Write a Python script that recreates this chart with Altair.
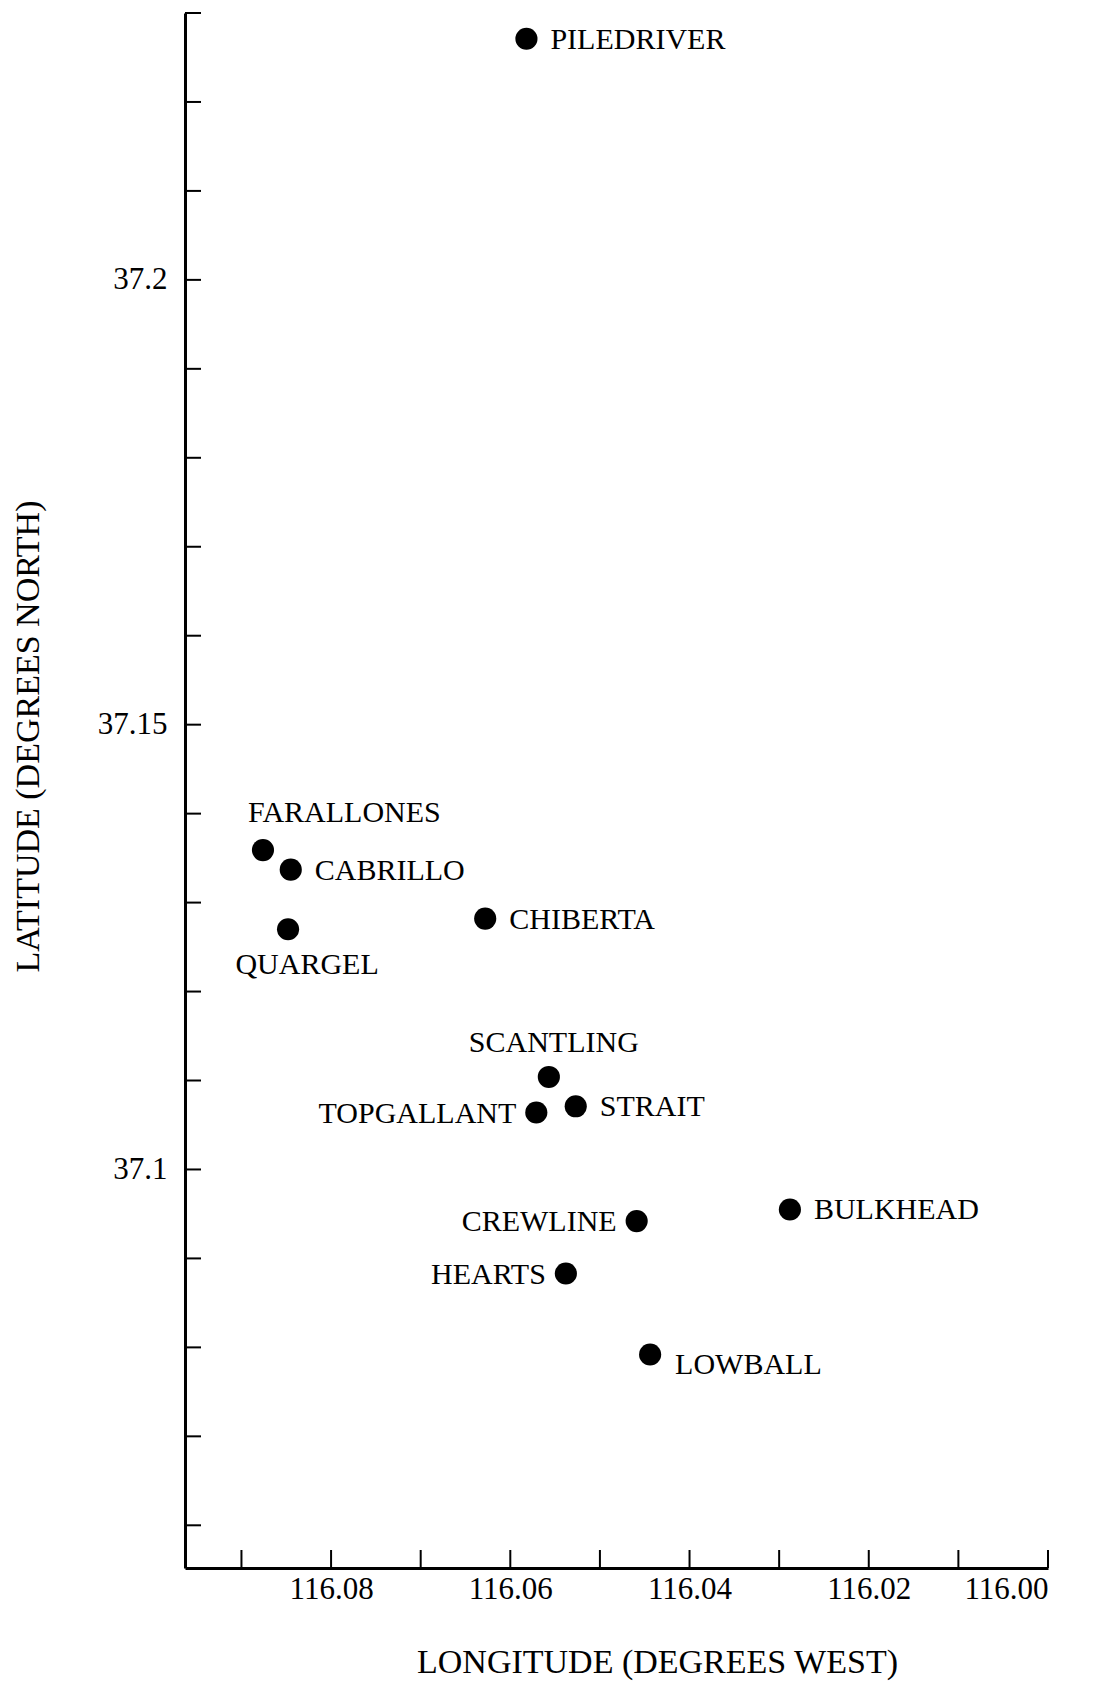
import altair as alt
import pandas as pd

# Station data
names = ["PILEDRIVER", "FARALLONES", "CABRILLO", "QUARGEL", "CHIBERTA",
         "SCANTLING", "TOPGALLANT", "STRAIT", "CREWLINE", "BULKHEAD",
         "HEARTS", "LOWBALL"]
lon_west = [116.0582, 116.0876, 116.0845, 116.0848, 116.0628,
            116.0557, 116.0571, 116.0527, 116.0459, 116.0288,
            116.0538, 116.0444]
lat_north = [37.2271, 37.1359, 37.1337, 37.1270, 37.1282,
             37.1104, 37.1064, 37.1071, 37.0942, 37.0955,
             37.0883, 37.0792]
label_side = ["right", "upper", "right", "below", "right",
              "above", "left", "right", "left", "right",
              "left", "lower-right"]

x_tick_values = [116.09, 116.08, 116.07, 116.06, 116.05, 116.04, 116.03, 116.02, 116.01, 116.00]
x_label_values = [116.08, 116.06, 116.04, 116.02, 116.00]
y_tick_values = [37.06, 37.07, 37.08, 37.09, 37.10, 37.11, 37.12, 37.13, 37.14, 37.15,
                 37.16, 37.17, 37.18, 37.19, 37.20, 37.21, 37.22, 37.23]
y_label_values = [37.1, 37.15, 37.2]

df = pd.DataFrame({"name": names, "lon": lon_west, "lat": lat_north, "side": label_side})
xt = pd.DataFrame({"lon": x_tick_values})
yt = pd.DataFrame({"lat": y_tick_values})

W, H = 863, 1555
FONT = "Liberation Serif"

xscale = alt.Scale(domain=[116.0, 116.0963], reverse=True, nice=False, zero=False)
yscale = alt.Scale(domain=[37.0552, 37.23], nice=False, zero=False)

xaxis = alt.Axis(values=x_label_values, format=".2f", ticks=False, grid=False,
                 domainColor="black", domainWidth=3, labelFont=FONT, labelFontSize=31,
                 labelColor="black", labelPadding=6, labelFontWeight="normal",
                 title="LONGITUDE (DEGREES WEST)", titleFont=FONT, titleFontSize=34,
                 titleFontWeight="normal", titleColor="black", titleX=472, titleY=94,
                 titleBaseline="middle", titleAlign="center")
yaxis = alt.Axis(values=y_label_values, format=".4~g", ticks=False, grid=False,
                 domainColor="black", domainWidth=3, labelFont=FONT, labelFontSize=31,
                 labelColor="black", labelPadding=18, labelFontWeight="normal",
                 title="LATITUDE (DEGREES NORTH)", titleFont=FONT, titleFontSize=34,
                 titleFontWeight="normal", titleColor="black", titleX=-157, titleY=723,
                 titleAngle=-90, titleBaseline="middle", titleAlign="center")

X = alt.X("lon:Q", scale=xscale, axis=xaxis)
Y = alt.Y("lat:Q", scale=yscale, axis=yaxis)

points = alt.Chart(df).mark_circle(size=490, color="black", opacity=1).encode(x=X, y=Y)

xticks = alt.Chart(xt).mark_rule(color="black", strokeWidth=2).encode(
    x=X, y=alt.value(H), y2=alt.value(H - 18))
yticks = alt.Chart(yt).mark_rule(color="black", strokeWidth=2).encode(
    y=Y, x=alt.value(0), x2=alt.value(16))

def labels(side, align, dx, dy):
    return alt.Chart(df).transform_filter(alt.datum.side == side).mark_text(
        align=align, baseline="middle", dx=dx, dy=dy, font=FONT, fontSize=30,
        color="black").encode(x=X, y=Y, text="name:N")

layers = [
    xticks, yticks, points,
    labels("right", "left", 24, 1),
    labels("left", "right", -20, 1),
    labels("upper", "left", -15, -37),
    labels("above", "center", 5, -34),
    labels("below", "center", 19, 36),
    labels("lower-right", "left", 25, 11),
]

chart = alt.layer(*layers).properties(
    width=W, height=H,
    padding={"left": 177, "top": 5, "right": 30, "bottom": 113},
    autosize=alt.AutoSizeParams(type="none"),
    background="white",
).configure_view(stroke=None)

chart.save("out.html", embed_options={"renderer": "svg", "actions": False})
